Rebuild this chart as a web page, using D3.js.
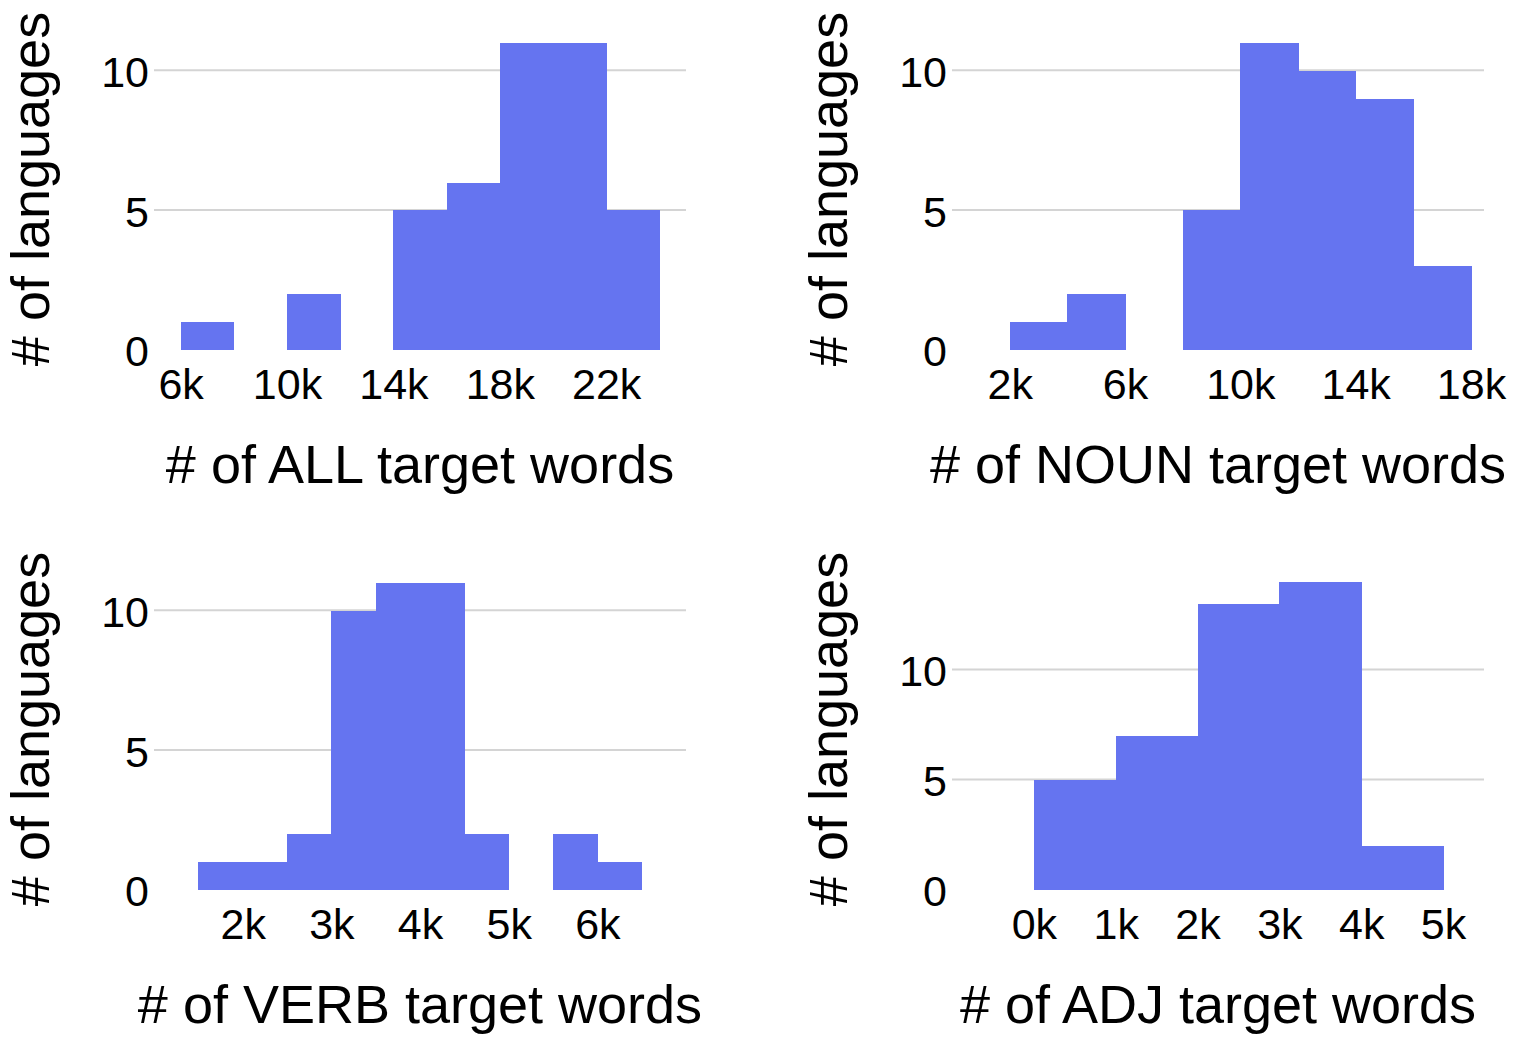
<!DOCTYPE html>
<html>
<head>
<meta charset="utf-8">
<script src="https://cdn.jsdelivr.net/npm/d3@7"></script>
<style>
  html, body { margin: 0; padding: 0; background: #fff; }
  svg { display: block; font-family: "Liberation Sans", Arial, Helvetica, sans-serif; }
</style>
</head>
<body>
<svg id="chart" width="1532" height="1042"></svg>
<script>
// ---- Data ----
const panelNames = ["ALL", "NOUN", "VERB", "ADJ"];

const allEdges   = [6000, 8000, 10000, 12000, 14000, 16000, 18000, 20000, 22000, 24000];
const allCounts  = [1, 0, 2, 0, 5, 6, 11, 11, 5];

const nounEdges  = [2000, 4000, 6000, 8000, 10000, 12000, 14000, 16000, 18000];
const nounCounts = [1, 2, 0, 5, 11, 10, 9, 3];

const verbEdges  = [1500, 2000, 2500, 3000, 3500, 4000, 4500, 5000, 5500, 6000, 6500];
const verbCounts = [1, 1, 2, 10, 11, 11, 2, 0, 2, 1];

const adjEdges   = [0, 1000, 2000, 3000, 4000, 5000];
const adjCounts  = [5, 7, 13, 14, 2];

const allTicks  = [6000, 10000, 14000, 18000, 22000];
const nounTicks = [2000, 6000, 10000, 14000, 18000];
const verbTicks = [2000, 3000, 4000, 5000, 6000];
const adjTicks  = [0, 1000, 2000, 3000, 4000, 5000];

const yTicks = [0, 5, 10];
const gridValues = [5, 10];

const xDomains = [[5000, 25000], [0, 18450], [1000, 7000], [-1000, 5500]];
const yMaxes = [12, 12, 12, 15];

// ---- Layout ----
const layout = [
  { left: 154, right: 686,  top: 15,  bottom: 350, titleX: 49 },
  { left: 952, right: 1484, top: 15,  bottom: 350, titleX: 847 },
  { left: 154, right: 686,  top: 555, bottom: 890, titleX: 49 },
  { left: 952, right: 1484, top: 560, bottom: 890, titleX: 847 }
];

const edgesList  = [allEdges, nounEdges, verbEdges, adjEdges];
const countsList = [allCounts, nounCounts, verbCounts, adjCounts];
const ticksList  = [allTicks, nounTicks, verbTicks, adjTicks];

const BAR = "#6574f0";
const GRID = "#d4d4d4";
const TICK_FONT = 43;
const TITLE_FONT = 54;

const svg = d3.select("#chart");

panelNames.forEach((name, i) => {
  const L = layout[i];
  const x = d3.scaleLinear().domain(xDomains[i]).range([L.left, L.right]);
  const y = d3.scaleLinear().domain([0, yMaxes[i]]).range([L.bottom, L.top]);
  const g = svg.append("g");

  // gridlines
  g.append("g")
    .attr("transform", `translate(${L.left},-1)`)
    .call(d3.axisLeft(y).tickValues(gridValues).tickSize(-(L.right - L.left)).tickFormat(""))
    .call(s => s.select(".domain").remove())
    .call(s => s.selectAll("line").attr("stroke", GRID).attr("stroke-width", 2));

  // bars
  const edges = edgesList[i];
  const bins = countsList[i].map((c, k) => ({ x0: edges[k], x1: edges[k + 1], c }))
    .filter(b => b.c > 0);
  g.append("g").selectAll("rect").data(bins).join("rect")
    .attr("x", d => x(d.x0))
    .attr("width", d => x(d.x1) - x(d.x0) + 0.5)
    .attr("y", d => y(d.c))
    .attr("height", d => y(0) - y(d.c))
    .attr("fill", BAR)
    .attr("shape-rendering", "crispEdges");

  // y axis labels
  const ya = g.append("g")
    .attr("transform", `translate(${L.left},0)`)
    .call(d3.axisLeft(y).tickValues(yTicks).tickSize(0).tickPadding(5).tickFormat(d3.format("d")));
  ya.select(".domain").remove();
  ya.selectAll("text")
    .attr("font-size", TICK_FONT)
    .attr("font-family", "Liberation Sans, Arial, sans-serif")
    .attr("fill", "#000")
    .attr("dy", "0.37em");

  // x axis labels
  const xa = g.append("g")
    .attr("transform", `translate(0,${L.bottom})`)
    .call(d3.axisBottom(x).tickValues(ticksList[i]).tickSize(0).tickPadding(18).tickFormat(d => (d / 1000) + "k"));
  xa.select(".domain").remove();
  xa.selectAll("text")
    .attr("font-size", TICK_FONT)
    .attr("font-family", "Liberation Sans, Arial, sans-serif")
    .attr("fill", "#000");

  // x title
  g.append("text")
    .attr("x", (L.left + L.right) / 2)
    .attr("y", L.bottom + 133)
    .attr("text-anchor", "middle")
    .attr("font-size", TITLE_FONT)
    .attr("fill", "#000")
    .text(`# of ${name} target words`);

  // y title
  const cy = (i < 2) ? 189 : 729;
  g.append("text")
    .attr("transform", `translate(${L.titleX},${cy}) rotate(-90)`)
    .attr("text-anchor", "middle")
    .attr("font-size", TITLE_FONT)
    .attr("fill", "#000")
    .text("# of languages");
});
</script>
</body>
</html>
